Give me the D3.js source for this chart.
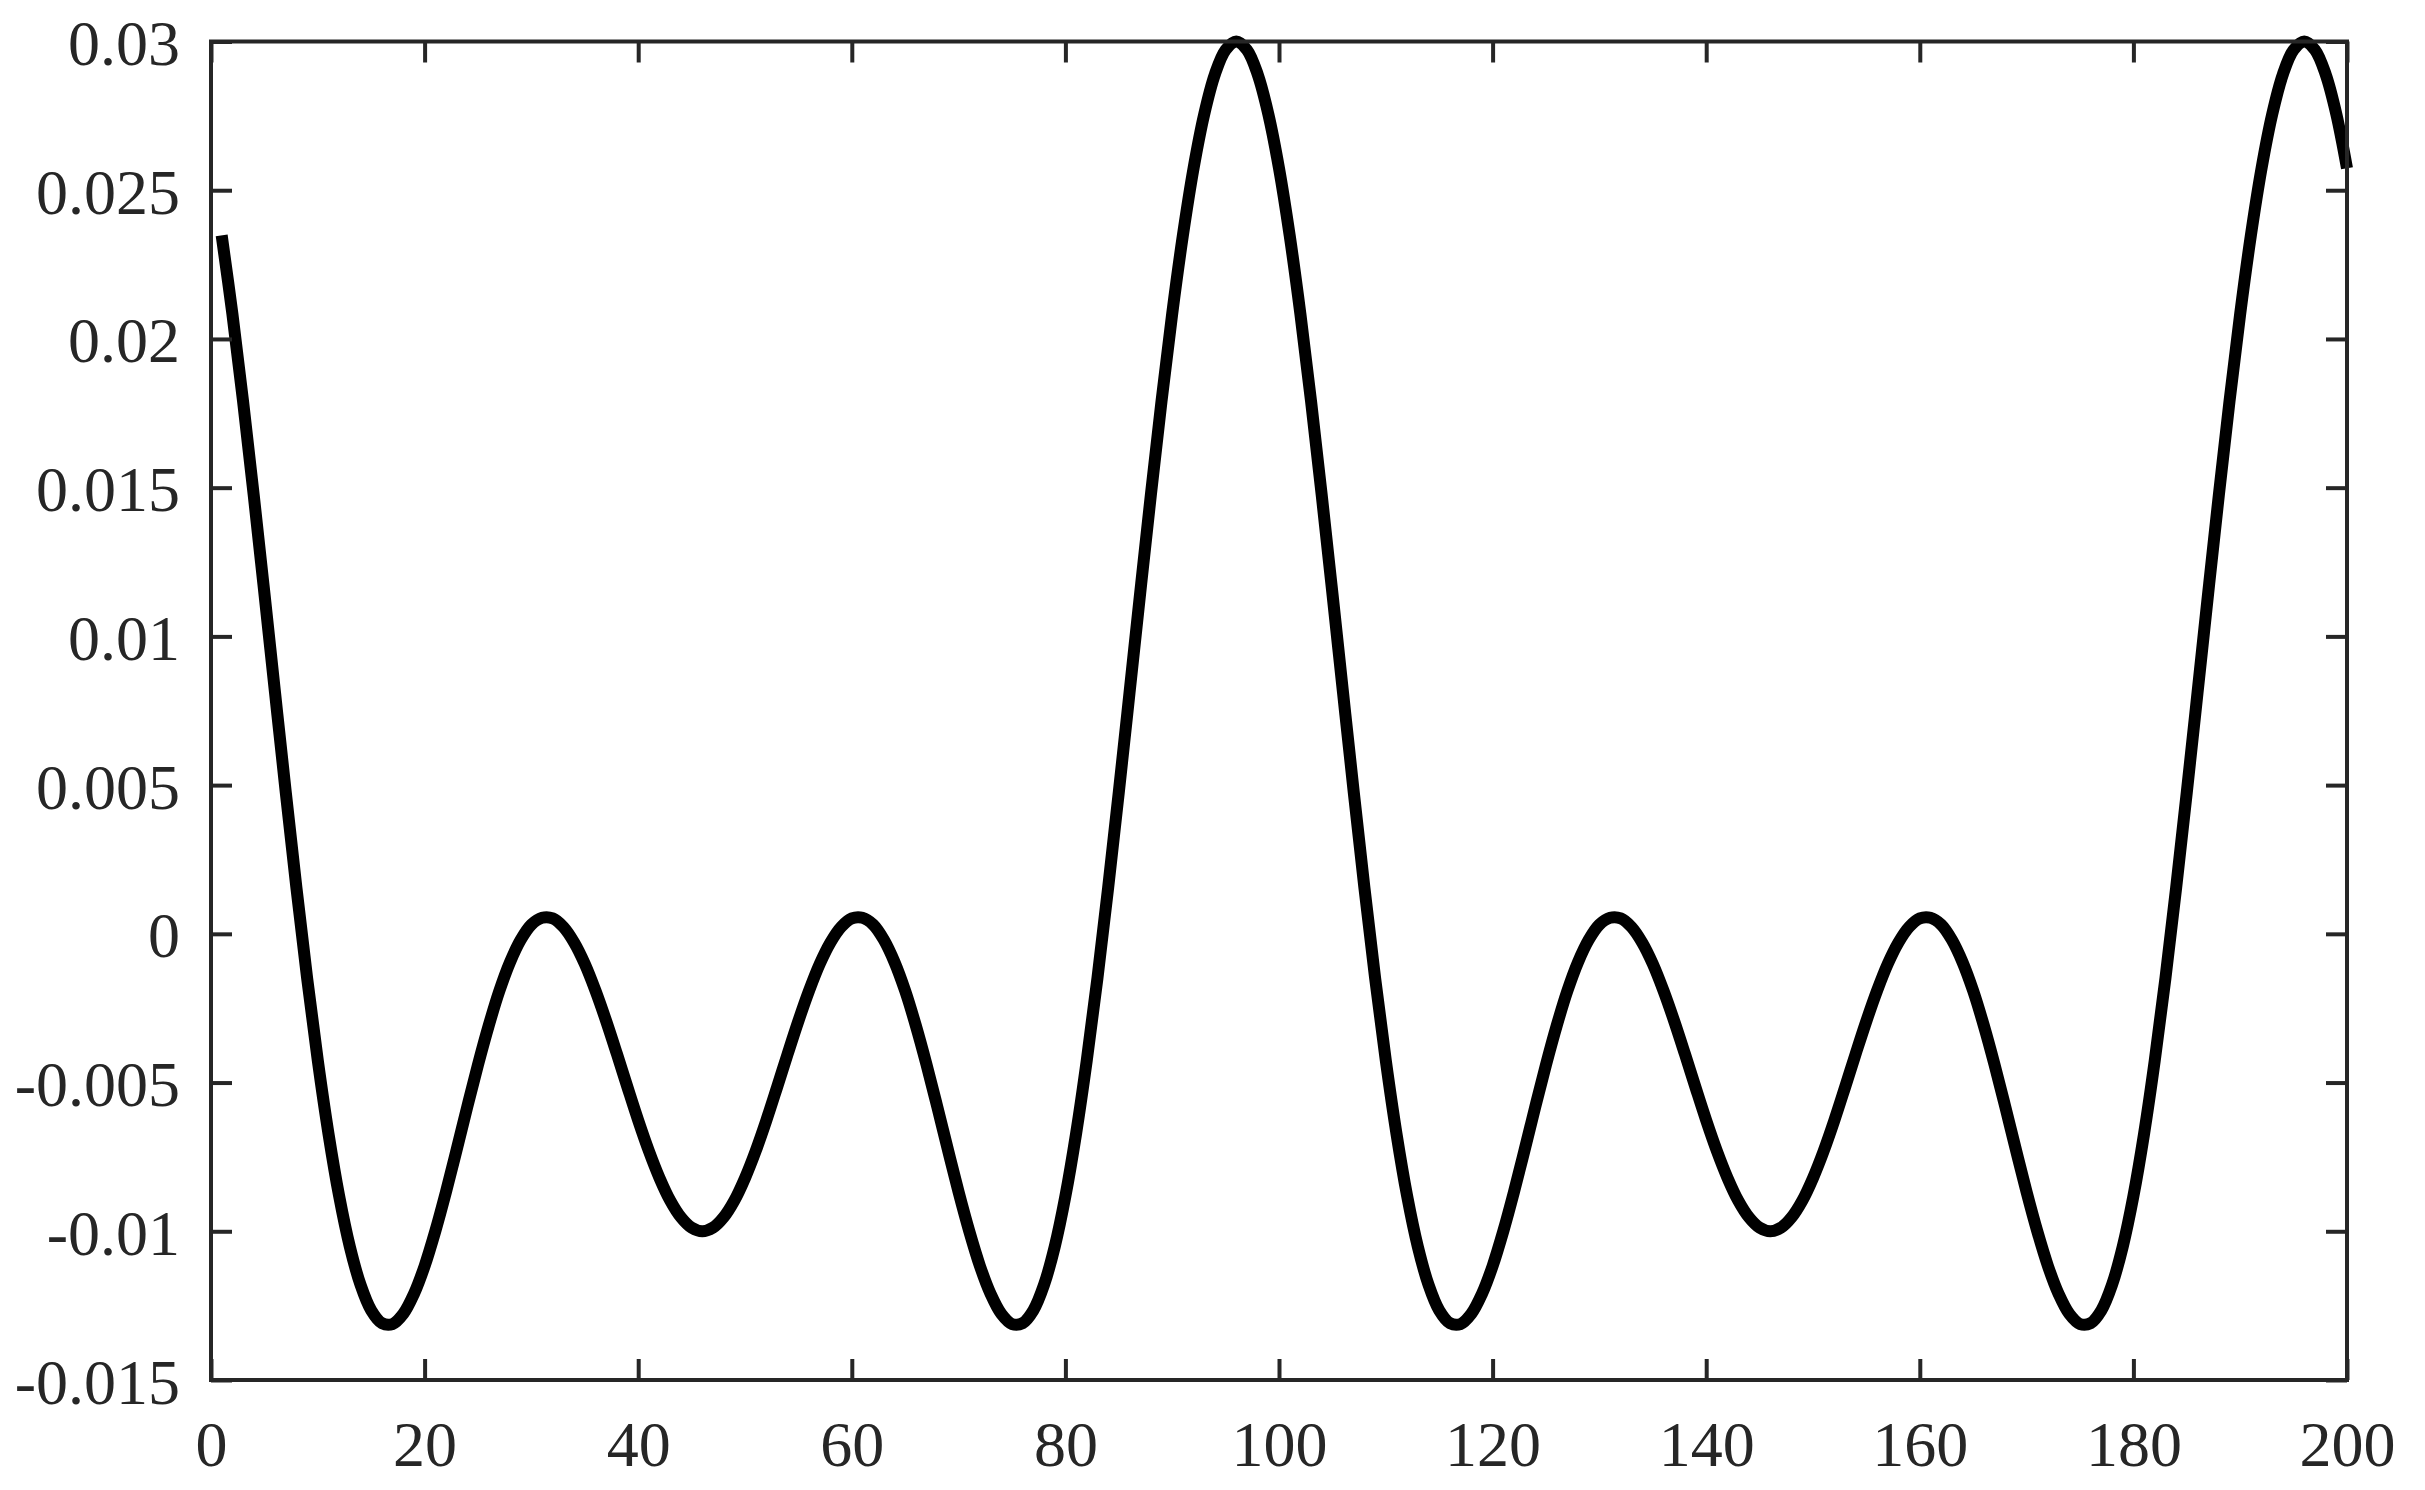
<!DOCTYPE html>
<html>
<head>
<meta charset="utf-8">
<script src="https://cdn.jsdelivr.net/npm/d3@7"></script>
<style>
	body { margin: 0; background: #fff; }
	svg { display: block; }
	.tick text { font-family: "Liberation Serif", "Times New Roman", serif; font-size: 64px; fill: #262626; }
	.tick line { stroke: #262626; stroke-width: 4px; }
</style>
</head>
<body>
<svg id="chart" width="2425" height="1490"></svg>
<script>
// values, one per sample x = 1..200
var sampleX = d3.range(1, 201);
var sampleY = [
	0.02348, 0.02085, 0.01791, 0.01475, 0.01145, 0.00809, 0.00476, 0.00154, -0.00149, -0.00426,
	-0.00672, -0.00882, -0.01052, -0.01180, -0.01266, -0.01309, -0.01312, -0.01278, -0.01211, -0.01117,
	-0.01000, -0.00868, -0.00726, -0.00581, -0.00440, -0.00309, -0.00192, -0.00095, -0.00020, 0.00031,
	0.00054, 0.00052, 0.00023, -0.00029, -0.00101, -0.00191, -0.00293, -0.00403, -0.00516, -0.00627,
	-0.00730, -0.00821, -0.00897, -0.00953, -0.00988, -0.01000, -0.00988, -0.00953, -0.00897, -0.00821,
	-0.00730, -0.00627, -0.00516, -0.00403, -0.00293, -0.00191, -0.00101, -0.00029, 0.00023, 0.00052,
	0.00054, 0.00031, -0.00020, -0.00095, -0.00192, -0.00309, -0.00440, -0.00581, -0.00726, -0.00868,
	-0.01000, -0.01117, -0.01211, -0.01278, -0.01312, -0.01309, -0.01266, -0.01180, -0.01052, -0.00882,
	-0.00672, -0.00426, -0.00149, 0.00154, 0.00476, 0.00809, 0.01145, 0.01475, 0.01791, 0.02085,
	0.02348, 0.02574, 0.02756, 0.02890, 0.02972, 0.03000, 0.02972, 0.02890, 0.02756, 0.02574,
	0.02348, 0.02085, 0.01791, 0.01475, 0.01145, 0.00809, 0.00476, 0.00154, -0.00149, -0.00426,
	-0.00672, -0.00882, -0.01052, -0.01180, -0.01266, -0.01309, -0.01312, -0.01278, -0.01211, -0.01117,
	-0.01000, -0.00868, -0.00726, -0.00581, -0.00440, -0.00309, -0.00192, -0.00095, -0.00020, 0.00031,
	0.00054, 0.00052, 0.00023, -0.00029, -0.00101, -0.00191, -0.00293, -0.00403, -0.00516, -0.00627,
	-0.00730, -0.00821, -0.00897, -0.00953, -0.00988, -0.01000, -0.00988, -0.00953, -0.00897, -0.00821,
	-0.00730, -0.00627, -0.00516, -0.00403, -0.00293, -0.00191, -0.00101, -0.00029, 0.00023, 0.00052,
	0.00054, 0.00031, -0.00020, -0.00095, -0.00192, -0.00309, -0.00440, -0.00581, -0.00726, -0.00868,
	-0.01000, -0.01117, -0.01211, -0.01278, -0.01312, -0.01309, -0.01266, -0.01180, -0.01052, -0.00882,
	-0.00672, -0.00426, -0.00149, 0.00154, 0.00476, 0.00809, 0.01145, 0.01475, 0.01791, 0.02085,
	0.02348, 0.02574, 0.02756, 0.02890, 0.02972, 0.03000, 0.02972, 0.02890, 0.02756, 0.02574
];

// ticks
var xTicks = [0, 20, 40, 60, 80, 100, 120, 140, 160, 180, 200];
var yTicks = [-0.015, -0.01, -0.005, 0, 0.005, 0.01, 0.015, 0.02, 0.025, 0.03];
var yTickLabels = ["-0.015", "-0.01", "-0.005", "0", "0.005", "0.01", "0.015", "0.02", "0.025", "0.03"];

var svg = d3.select("#chart"),
	plotLeft = 211,
	plotRight = 2347,
	plotTop = 41.5,
	plotBottom = 1380;

var x = d3.scaleLinear().domain([0, 200]).range([plotLeft, plotRight]);
var y = d3.scaleLinear().domain([-0.015, 0.03]).range([plotBottom, plotTop]);

// curve
var line = d3.line()
	.x(function (d, i) { return x(sampleX[i]); })
	.y(function (d) { return y(d); })
	.curve(d3.curveCatmullRom);

svg.append("path")
	.datum(sampleY)
	.attr("d", line)
	.attr("fill", "none")
	.attr("stroke", "#000")
	.attr("stroke-width", 12)
	.attr("stroke-linejoin", "round");

// box
svg.append("rect")
	.attr("x", plotLeft)
	.attr("y", plotTop)
	.attr("width", plotRight - plotLeft)
	.attr("height", plotBottom - plotTop)
	.attr("fill", "none")
	.attr("stroke", "#262626")
	.attr("stroke-width", 4);

// axes, ticks pointing inward on all sides
var gx = svg.append("g")
	.attr("transform", "translate(0," + plotBottom + ")")
	.call(d3.axisBottom(x).tickValues(xTicks).tickSizeInner(-21).tickSizeOuter(0).tickPadding(41));

var gxTop = svg.append("g")
	.attr("transform", "translate(0," + plotTop + ")")
	.call(d3.axisTop(x).tickValues(xTicks).tickSizeInner(-21).tickSizeOuter(0).tickFormat(""));

var gy = svg.append("g")
	.attr("transform", "translate(" + plotLeft + ",0)")
	.call(d3.axisLeft(y).tickValues(yTicks).tickSizeInner(-21).tickSizeOuter(0).tickPadding(31)
		.tickFormat(function (d, i) { return yTickLabels[i]; }));

var gyRight = svg.append("g")
	.attr("transform", "translate(" + plotRight + ",0)")
	.call(d3.axisRight(y).tickValues(yTicks).tickSizeInner(-21).tickSizeOuter(0).tickFormat(""));

svg.selectAll(".domain").remove();
gy.selectAll("text").attr("dy", "0.36em");
</script>
</body>
</html>
